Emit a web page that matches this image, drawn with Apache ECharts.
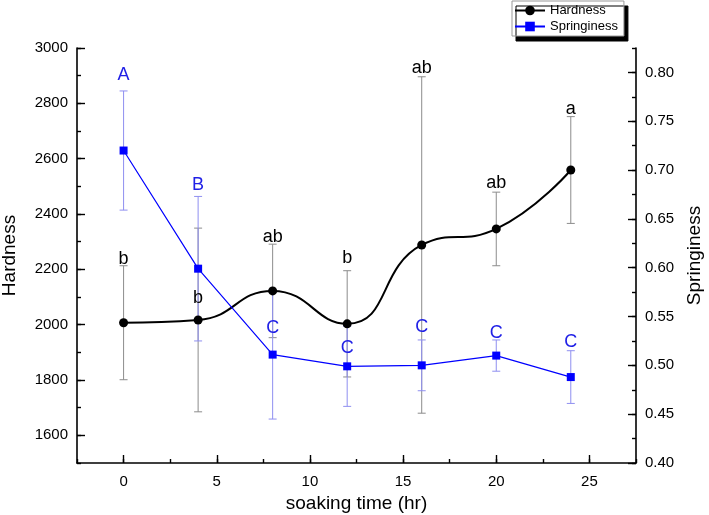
<!DOCTYPE html>
<html><head><meta charset="utf-8">
<script src="https://cdn.jsdelivr.net/npm/echarts@6/dist/echarts.min.js"></script>
<style>html,body{margin:0;padding:0;background:#fff}#c{width:709px;height:515px}</style>
</head><body><div id="c"></div><script>
// ---- data ----
const times = [0, 4, 8, 12, 16, 20, 24];
const hardness = [2007, 2017, 2122, 2003, 2288, 2346, 2559];
const hardnessErr = [206, 332, 169, 192, 608, 133, 193];
const springiness = [0.720, 0.599, 0.511, 0.499, 0.500, 0.510, 0.488];
const springErr = [0.061, 0.074, 0.066, 0.041, 0.026, 0.016, 0.027];
const hardnessLetters = ['b', 'b', 'ab', 'b', 'ab', 'ab', 'a'];
const hardnessLetterY = [2237, 2096, 2317, 2241, 2928, 2512, 2779];
const springLetters = ['A', 'B', 'C', 'C', 'C', 'C', 'C'];
const springLetterY = [0.797, 0.685, 0.538, 0.518, 0.539, 0.533, 0.524];
const hardnessTicks = [1600, 1800, 2000, 2200, 2400, 2600, 2800, 3000];
const springTicks = [0.40, 0.45, 0.50, 0.55, 0.60, 0.65, 0.70, 0.75, 0.80];
const timeTicks = [0, 5, 10, 15, 20, 25];

const FONT = '"Liberation Sans", Arial, Helvetica, sans-serif';
const chart = echarts.init(document.getElementById('c'), null, {renderer: 'canvas'});

function errRender(color) {
  return function (params, api) {
    const x = api.value(0), lo = api.value(1), hi = api.value(2);
    const p1 = api.coord([x, hi]), p2 = api.coord([x, lo]);
    const w = 4;
    const st = {stroke: color, lineWidth: 1};
    return {type: 'group', children: [
      {type: 'line', shape: {x1: p1[0], y1: p1[1], x2: p2[0], y2: p2[1]}, style: st},
      {type: 'line', shape: {x1: p1[0] - w, y1: p1[1], x2: p1[0] + w, y2: p1[1]}, style: st},
      {type: 'line', shape: {x1: p2[0] - w, y1: p2[1], x2: p2[0] + w, y2: p2[1]}, style: st}
    ]};
  };
}

const axisLineStyle = {color: '#000', width: 1.6};
function minorAxis(extra) {
  return Object.assign({type: 'value',
    axisLine: {show: false, onZero: false}, axisLabel: {show: false}, splitLine: {show: false},
    axisTick: {show: true, inside: true, length: 4, lineStyle: {color: '#000', width: 1.4}}}, extra);
}

const option = {
  animation: false,
  backgroundColor: '#fff',
  textStyle: {fontFamily: FONT},
  grid: {left: 77, right: 73, top: 48, bottom: 52, containLabel: false, outerBoundsMode: 'none'},
  legend: {
    orient: 'vertical', left: 512, top: 1, padding: [3, 6, 3, 2],
    itemWidth: 30, itemHeight: 12, itemGap: 3,
    data: ['Hardness', 'Springiness'],
    textStyle: {fontSize: 13, color: '#000', fontFamily: FONT},
    backgroundColor: '#fff', borderColor: '#999', borderWidth: 1, borderRadius: 0,
    shadowColor: '#000', shadowBlur: 0, shadowOffsetX: 4, shadowOffsetY: 5
  },
  xAxis: [
    {type: 'value', position: 'bottom', min: -2.5, max: 27.5,
      name: 'soaking time (hr)', nameLocation: 'middle', nameGap: 31,
      nameTextStyle: {fontSize: 19, color: '#000', fontFamily: FONT},
      axisLine: {show: true, onZero: false, lineStyle: axisLineStyle},
      axisTick: {show: true, inside: true, length: 8, customValues: timeTicks, lineStyle: {color: '#000', width: 1.4}},
      axisLabel: {customValues: timeTicks, fontSize: 15, color: '#000', margin: 11, fontFamily: FONT,
        formatter: v => String(v)},
      splitLine: {show: false}},
    minorAxis({position: 'bottom', min: -2.5, max: 27.5, interval: 2.5})
  ],
  yAxis: [
    {type: 'value', position: 'left', min: 1500, max: 3000,
      name: 'Hardness', nameLocation: 'middle', nameGap: 58,
      nameTextStyle: {fontSize: 19, color: '#000', fontFamily: FONT},
      axisLine: {show: true, onZero: false, lineStyle: axisLineStyle},
      axisTick: {show: true, inside: true, length: 8, customValues: hardnessTicks, lineStyle: {color: '#000', width: 1.4}},
      axisLabel: {customValues: hardnessTicks, fontSize: 15, color: '#000', margin: 9, fontFamily: FONT,
        formatter: v => String(v)},
      splitLine: {show: false}},
    {type: 'value', position: 'right', min: 0.4, max: 0.825,
      name: 'Springiness', nameLocation: 'middle', nameGap: 42,
      nameTextStyle: {fontSize: 19, color: '#000', fontFamily: FONT},
      axisLine: {show: true, onZero: false, lineStyle: axisLineStyle},
      axisTick: {show: true, inside: true, length: 8, customValues: springTicks, lineStyle: {color: '#000', width: 1.4}},
      axisLabel: {customValues: springTicks, fontSize: 15, color: '#000', margin: 9, fontFamily: FONT,
        formatter: v => v.toFixed(2)},
      splitLine: {show: false}},
    minorAxis({position: 'left', min: 1500, max: 3000, interval: 100}),
    minorAxis({position: 'right', min: 0.4, max: 0.825, interval: 0.025})
  ],
  series: [
    {type: 'custom', name: 'hErr', xAxisIndex: 0, yAxisIndex: 0, z: 2, silent: true,
      renderItem: errRender('#8c8c8c'), encode: {x: 0, y: [1, 2]},
      data: times.map((t, i) => [t, hardness[i] - hardnessErr[i], hardness[i] + hardnessErr[i]])},
    {type: 'custom', name: 'sErr', xAxisIndex: 0, yAxisIndex: 1, z: 2, silent: true,
      renderItem: errRender('#8f8ff0'), encode: {x: 0, y: [1, 2]},
      data: times.map((t, i) => [t, springiness[i] - springErr[i], springiness[i] + springErr[i]])},
    {type: 'line', name: 'Hardness', xAxisIndex: 0, yAxisIndex: 0, z: 4,
      smooth: 0.5, symbol: 'circle', symbolSize: 9,
      lineStyle: {color: '#000', width: 2}, itemStyle: {color: '#000'},
      data: times.map((t, i) => [t, hardness[i]])},
    {type: 'line', name: 'Springiness', xAxisIndex: 0, yAxisIndex: 1, z: 5,
      symbol: 'rect', symbolSize: 8,
      lineStyle: {color: '#0000ff', width: 1.2}, itemStyle: {color: '#0000ff'},
      data: times.map((t, i) => [t, springiness[i]])},
    {type: 'scatter', name: 'hLetters', xAxisIndex: 0, yAxisIndex: 0, z: 6, silent: true,
      symbolSize: 1, itemStyle: {color: 'rgba(0,0,0,0)', opacity: 1},
      label: {show: true, position: 'inside', formatter: '{b}', fontSize: 18, color: '#000', opacity: 1, fontFamily: FONT},
      data: times.map((t, i) => ({name: hardnessLetters[i], value: [t, hardnessLetterY[i]]}))},
    {type: 'scatter', name: 'sLetters', xAxisIndex: 0, yAxisIndex: 1, z: 6, silent: true,
      symbolSize: 1, itemStyle: {color: 'rgba(0,0,0,0)', opacity: 1},
      label: {show: true, position: 'inside', formatter: '{b}', fontSize: 18, color: '#2020e6', opacity: 1, fontFamily: FONT},
      data: times.map((t, i) => ({name: springLetters[i], value: [t, springLetterY[i]]}))}
  ]
};
chart.setOption(option);
</script></body></html>
